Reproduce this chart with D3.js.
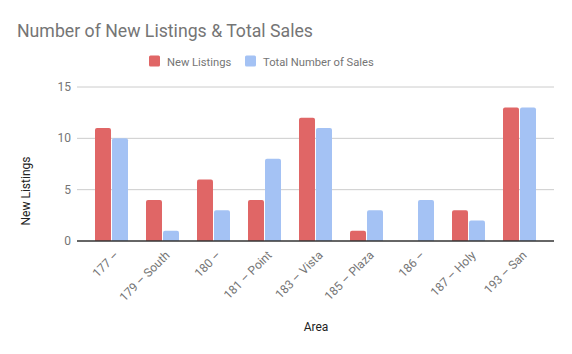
<!DOCTYPE html>
<html lang="en">
<head>
    <meta charset="UTF-8">
    <title>New Listings & Total Sales</title>
    <style>
        body { margin: 0; background: #fff; }
        text { font-family: Roboto, "Noto Sans", sans-serif; }
    </style>
</head>
<body>
    <script src="https://d3js.org/d3.v7.min.js"></script>
    <div id="chart"></div>
    <script>
        const areas = ["177 –", "179 – South", "180 –", "181 – Point", "183 – Vista", "185 – Plaza", "186 –", "187 – Holy", "193 – San"]
        const newListings = [11, 4, 6, 4, 12, 1, 0, 3, 13]
        const totalSales = [10, 1, 3, 8, 11, 3, 4, 2, 13]
        const seriesNames = ["New Listings", "Total Number of Sales"]
        const colors = ["#e06666", "#a4c2f4"]
        const yTicks = [0, 5, 10, 15]

        const W = 572, H = 354
        const MARGIN = { LEFT: 77, RIGHT: 18, TOP: 87, BOTTOM: 113 }
        const WIDTH = W - MARGIN.LEFT - MARGIN.RIGHT
        const HEIGHT = H - MARGIN.TOP - MARGIN.BOTTOM

        const svg = d3.select("#chart").append("svg")
            .attr("width", W).attr("height", H)

        const g = svg.append("g")
            .attr("transform", `translate(${MARGIN.LEFT}, ${MARGIN.TOP})`)

        const rows = areas.map((a, i) => ({ area: a, values: [newListings[i], totalSales[i]] }))

        // google leaves some extra room inside the plot area
        const x = d3.scaleBand().domain(areas).range([9, WIDTH - 9]).paddingInner(0).paddingOuter(0)
        const x1 = d3.scaleBand().domain([0, 1]).range([9, x.bandwidth() - 9]).paddingInner(0.06)
        const y = d3.scaleLinear().domain([0, 15]).range([HEIGHT, 0])

        // gridlines
        g.append("g").selectAll("line")
            .data(yTicks.filter(t => t > 0))
            .join("line")
            .attr("x1", 0).attr("x2", WIDTH)
            .attr("y1", d => y(d)).attr("y2", d => y(d))
            .attr("stroke", "#cccccc").attr("stroke-width", 1)

        // y axis labels
        g.append("g").selectAll("text")
            .data(yTicks)
            .join("text")
            .attr("x", -6).attr("y", d => y(d) + 4)
            .attr("text-anchor", "end")
            .attr("font-size", 12).attr("fill", "#757575")
            .text(d => d)

        // bars
        const groups = g.append("g").selectAll("g")
            .data(rows)
            .join("g")
            .attr("transform", d => `translate(${x(d.area)}, 0)`)

        groups.selectAll("path")
            .data(d => d.values.map((v, k) => ({ v, k })).filter(e => e.v > 0))
            .join("path")
            .attr("fill", d => colors[d.k])
            .attr("d", d => {
                const x0 = x1(d.k), w = x1.bandwidth(), y0 = y(d.v), yb = y(0), r = 2
                return `M${x0},${yb} V${y0 + r} Q${x0},${y0} ${x0 + r},${y0} H${x0 + w - r} Q${x0 + w},${y0} ${x0 + w},${y0 + r} V${yb} Z`
            })

        // baseline
        g.append("line")
            .attr("x1", 0).attr("x2", WIDTH)
            .attr("y1", y(0)).attr("y2", y(0))
            .attr("stroke", "#333333").attr("stroke-width", 1.3)

        // x labels
        g.append("g").selectAll("text")
            .data(areas)
            .join("text")
            .attr("text-anchor", "end")
            .attr("font-size", 12).attr("fill", "#757575")
            .attr("transform", d => `translate(${x(d) + x.bandwidth() / 2 + 8}, ${HEIGHT + 15}) rotate(-45)`)
            .text(d => d)

        // title
        svg.append("text")
            .attr("x", 17).attr("y", 37)
            .attr("font-size", 17.7).attr("fill", "#757575")
            .text("Number of New Listings & Total Sales")

        // legend
        const legendX = [149, 245]
        seriesNames.forEach((s, i) => {
            svg.append("rect")
                .attr("x", legendX[i]).attr("y", 55.5)
                .attr("width", 11).attr("height", 11).attr("rx", 1.5)
                .attr("fill", colors[i])
            svg.append("text")
                .attr("x", legendX[i] + 18).attr("y", 65.5)
                .attr("font-size", 11.2).attr("fill", "#757575")
                .text(s)
        })

        // axis titles
        svg.append("text")
            .attr("transform", `translate(30, 191) rotate(-90)`)
            .attr("text-anchor", "middle")
            .attr("font-size", 12).attr("fill", "#222222")
            .text("New Listings")

        svg.append("text")
            .attr("x", 316).attr("y", 331)
            .attr("text-anchor", "middle")
            .attr("font-size", 12).attr("fill", "#222222")
            .text("Area")
    </script>
</body>
</html>
